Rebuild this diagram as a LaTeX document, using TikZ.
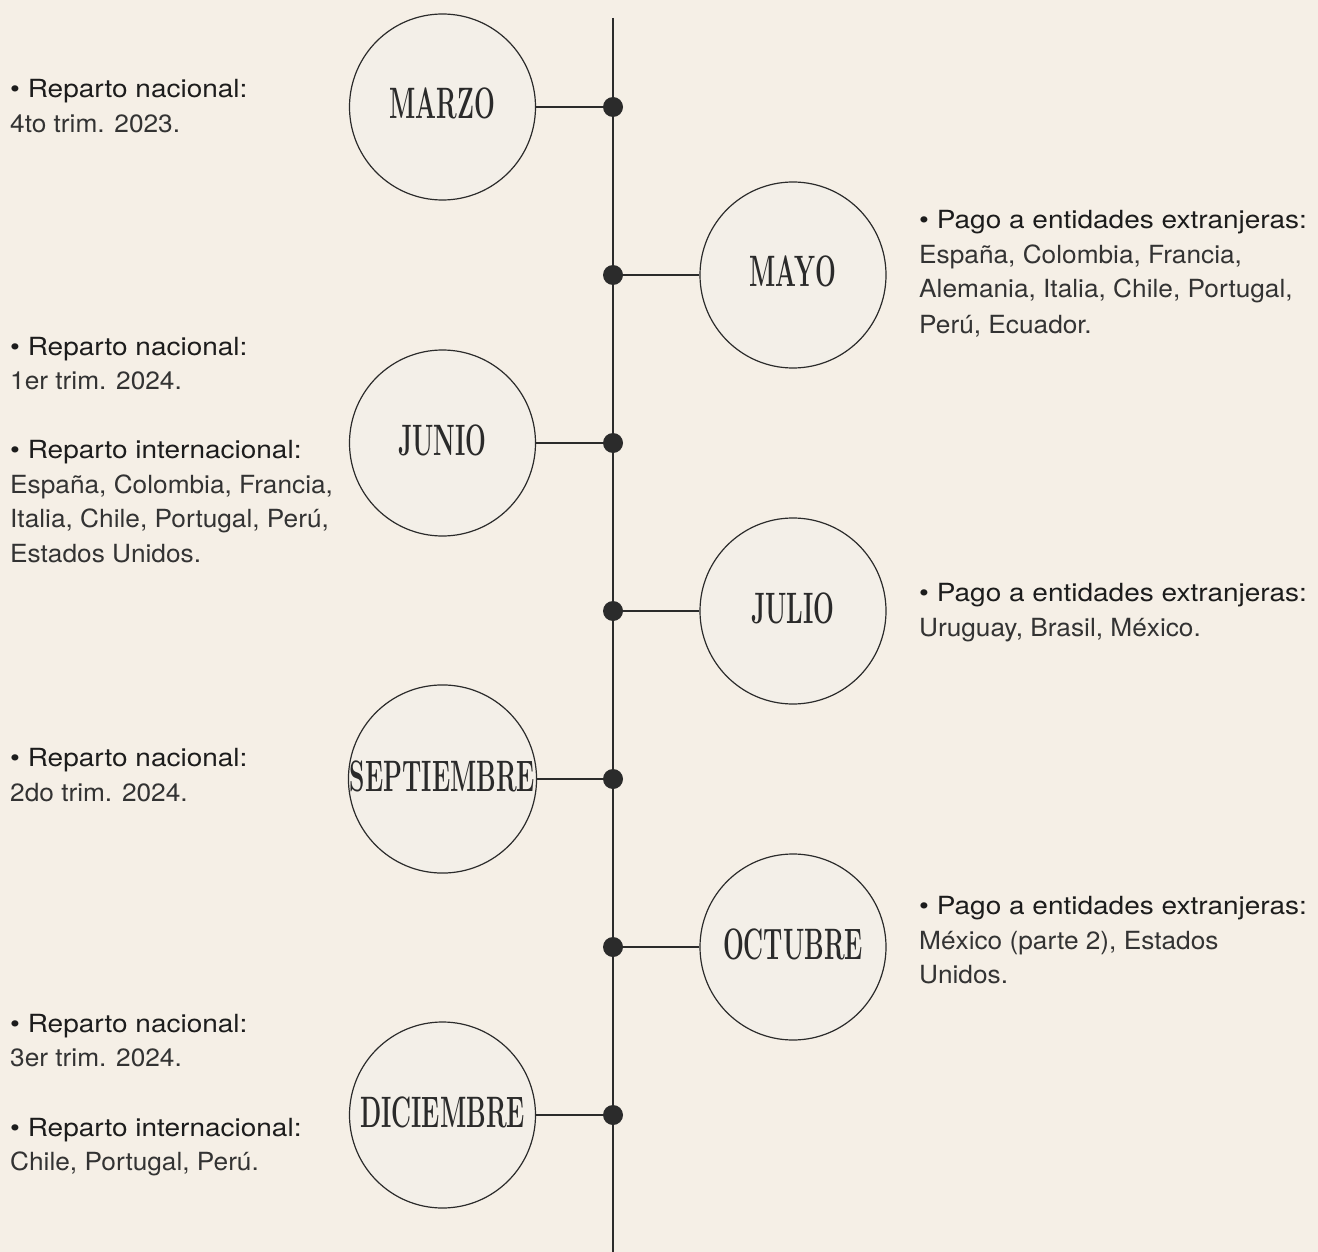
\documentclass[tikz,border=0pt]{standalone}
\usepackage{fontspec}
\newfontfamily\headfnt[FakeStretch=1.12]{TeX Gyre Heros}
\newfontfamily\bodyfnt[FakeStretch=1.05]{TeX Gyre Heros}
\newfontfamily\monthfnt[FakeStretch=0.56]{Latin Modern Roman}
\definecolor{bgc}{HTML}{F5EFE6}
\definecolor{circfill}{HTML}{F3EFE8}
\definecolor{linec}{HTML}{2B2B2B}
\definecolor{headc}{HTML}{1C1C1C}
\definecolor{bodyc}{HTML}{333333}
\definecolor{monthc}{HTML}{2A2A2A}
\tikzset{
  head/.style={anchor=base west, inner sep=0pt, text=headc, font={\headfnt\fontsize{25pt}{30pt}\selectfont}},
  body/.style={anchor=base west, inner sep=0pt, text=bodyc, font={\bodyfnt\fontsize{25pt}{30pt}\selectfont}},
  month/.style={circle, draw=linec, line width=1.2pt, fill=circfill, minimum size=186pt, inner sep=0pt,
    text height=30pt, text depth=6pt,
    text=monthc, font={\monthfnt\bfseries\fontsize{44pt}{44pt}\selectfont}},
  tdot/.style={circle, fill=linec, minimum size=20pt, inner sep=0pt},
  conn/.style={draw=linec, line width=1.6pt},
  axis/.style={draw=linec, line width=2pt}
}
\begin{document}
\begin{tikzpicture}[x=1pt, y=-1pt]
\fill[bgc] (0,0) rectangle (1318,1252);
\useasboundingbox (0,0) rectangle (1318,1252);
% axis
\coordinate (atop) at (613,18);
\coordinate (abot) at (613,1252);
\draw[axis] (atop) -- (abot);
% circles
\node[month] (c1) at (442.5,107) {MARZO};
\node[month] (c2) at (793,275) {MAYO};
\node[month] (c3) at (442.5,443) {JUNIO};
\node[month] (c4) at (793,611) {JULIO};
\node[month] (c5) at (442.5,779) {SEPTIEMBRE};
\node[month] (c6) at (793,947) {OCTUBRE};
\node[month] (c7) at (442.5,1115) {DICIEMBRE};
% dots
\node[tdot] (d1) at (613,107) {};
\node[tdot] (d2) at (613,275) {};
\node[tdot] (d3) at (613,443) {};
\node[tdot] (d4) at (613,611) {};
\node[tdot] (d5) at (613,779) {};
\node[tdot] (d6) at (613,947) {};
\node[tdot] (d7) at (613,1115) {};
% connectors
\draw[conn] (c1.east) -- (d1);
\draw[conn] (c2.west) -- (d2);
\draw[conn] (c3.east) -- (d3);
\draw[conn] (c4.west) -- (d4);
\draw[conn] (c5.east) -- (d5);
\draw[conn] (c6.west) -- (d6);
\draw[conn] (c7.east) -- (d7);
% MARZO text
\node[head] (t1a) at (10,98) {• Reparto nacional:};
\node[body] (t1b) at (10,133) {4to trim. 2023.};
% MAYO text
\node[head] (t2a) at (919,229) {• Pago a entidades extranjeras:};
\node[body] (t2b) at (919,264) {España, Colombia, Francia,};
\node[body] (t2c) at (919,298) {Alemania, Italia, Chile, Portugal,};
\node[body] (t2d) at (919,333) {Perú, Ecuador.};
% JUNIO text
\node[head] (t3a) at (10,355) {• Reparto nacional:};
\node[body] (t3b) at (10,389) {1er trim. 2024.};
\node[head] (t3c) at (10,458) {• Reparto internacional:};
\node[body] (t3d) at (10,493) {España, Colombia, Francia,};
\node[body] (t3e) at (10,527) {Italia, Chile, Portugal, Perú,};
\node[body] (t3f) at (10,562) {Estados Unidos.};
% JULIO text
\node[head] (t4a) at (919,601) {• Pago a entidades extranjeras:};
\node[body] (t4b) at (919,636) {Uruguay, Brasil, México.};
% SEPTIEMBRE text
\node[head] (t5a) at (10,766) {• Reparto nacional:};
\node[body] (t5b) at (10,801) {2do trim. 2024.};
% OCTUBRE text
\node[head] (t6a) at (919,914) {• Pago a entidades extranjeras:};
\node[body] (t6b) at (919,949) {México (parte 2), Estados};
\node[body] (t6c) at (919,983) {Unidos.};
% DICIEMBRE text
\node[head] (t7a) at (10,1032) {• Reparto nacional:};
\node[body] (t7b) at (10,1066) {3er trim. 2024.};
\node[head] (t7c) at (10,1136) {• Reparto internacional:};
\node[body] (t7d) at (10,1170) {Chile, Portugal, Perú.};
\end{tikzpicture}
\end{document}
